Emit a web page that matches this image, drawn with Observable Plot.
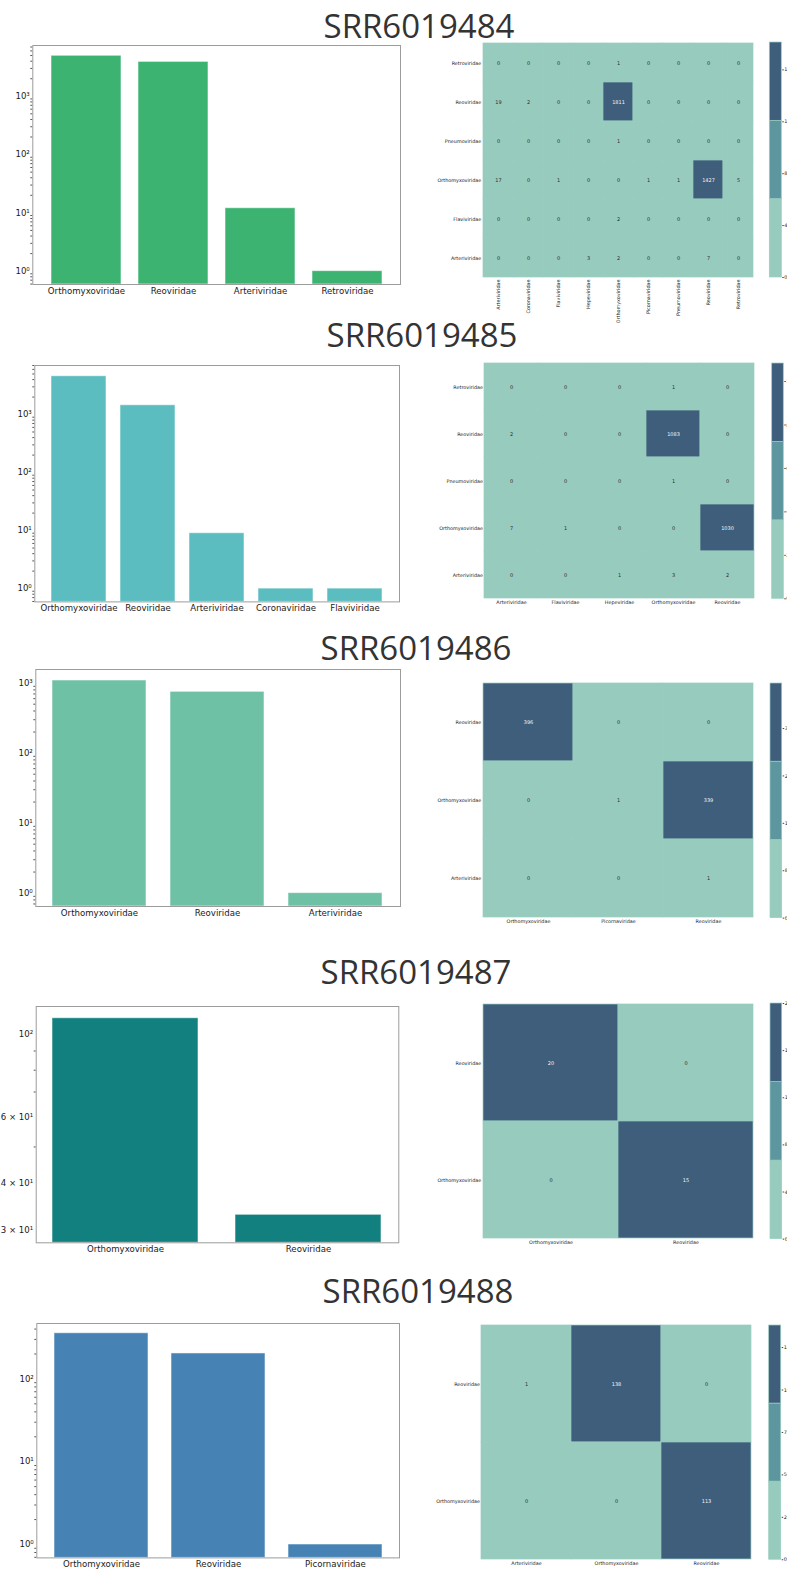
<!DOCTYPE html>
<html>
<head>
<meta charset="utf-8">
<script src="https://cdn.jsdelivr.net/npm/d3@7"></script>
<script src="https://cdn.jsdelivr.net/npm/@observablehq/plot@0.6"></script>
<style>
  html, body { margin: 0; padding: 0; background: #fff; }
  #page { position: relative; width: 787px; height: 1573px; overflow: hidden; }
  #page > svg { position: absolute; }
</style>
</head>
<body>
<div id="page"></div>
<script>
// ---- samples ----
const samples = ["SRR6019484", "SRR6019485", "SRR6019486", "SRR6019487", "SRR6019488"];

// ---- read counts per virus family (bar charts, log scale) ----
const barFamilies = [
  ["Orthomyxoviridae", "Reoviridae", "Arteriviridae", "Retroviridae"],
  ["Orthomyxoviridae", "Reoviridae", "Arteriviridae", "Coronaviridae", "Flaviviridae"],
  ["Orthomyxoviridae", "Reoviridae", "Arteriviridae"],
  ["Orthomyxoviridae", "Reoviridae"],
  ["Orthomyxoviridae", "Reoviridae", "Picornaviridae"]
];
const barCounts = [
  [4950, 3890, 12, 1],
  [4570, 1445, 9, 1, 1],
  [1090, 751, 1],
  [110, 33],
  [356, 203, 1]
];
const barColors = ["#3cb371", "#5cbdc0", "#6ec1a5", "#138080", "#4682b4"];

// y-axis limits and labelled ticks of each bar chart
const barYDomains = [[0.59, 7430], [0.59, 7000], [0.644, 1565], [27.8, 118.2], [0.689, 467]];
const barTickValues = [
  [1, 10, 100, 1000],
  [1, 10, 100, 1000],
  [1, 10, 100, 1000],
  [30, 40, 60, 100],
  [1, 10, 100]
];
const barTickLabels = [
  ["10⁰", "10¹", "10²", "10³"],
  ["10⁰", "10¹", "10²", "10³"],
  ["10⁰", "10¹", "10²", "10³"],
  ["3 × 10¹", "4 × 10¹", "6 × 10¹", "10²"],
  ["10⁰", "10¹", "10²"]
];

// ---- confusion matrices (rows: true family, columns: assigned family) ----
const heatRows = [
  ["Retroviridae", "Reoviridae", "Pneumoviridae", "Orthomyxoviridae", "Flaviviridae", "Arteriviridae"],
  ["Retroviridae", "Reoviridae", "Pneumoviridae", "Orthomyxoviridae", "Arteriviridae"],
  ["Reoviridae", "Orthomyxoviridae", "Arteriviridae"],
  ["Reoviridae", "Orthomyxoviridae"],
  ["Reoviridae", "Orthomyxoviridae"]
];
const heatCols = [
  ["Arteriviridae", "Coronaviridae", "Flaviviridae", "Hepeviridae", "Orthomyxoviridae", "Picornaviridae", "Pneumoviridae", "Reoviridae", "Retroviridae"],
  ["Arteriviridae", "Flaviviridae", "Hepeviridae", "Orthomyxoviridae", "Reoviridae"],
  ["Orthomyxoviridae", "Picornaviridae", "Reoviridae"],
  ["Orthomyxoviridae", "Reoviridae"],
  ["Arteriviridae", "Orthomyxoviridae", "Reoviridae"]
];
const heatValues = [
  [
    [0, 0, 0, 0, 1, 0, 0, 0, 0],
    [19, 2, 0, 0, 1811, 0, 0, 0, 0],
    [0, 0, 0, 0, 1, 0, 0, 0, 0],
    [17, 0, 1, 0, 0, 1, 1, 1427, 5],
    [0, 0, 0, 0, 2, 0, 0, 0, 0],
    [0, 0, 0, 3, 2, 0, 0, 7, 0]
  ],
  [
    [0, 0, 0, 1, 0],
    [2, 0, 0, 1083, 0],
    [0, 0, 0, 1, 0],
    [7, 1, 0, 0, 1030],
    [0, 0, 1, 3, 2]
  ],
  [
    [396, 0, 0],
    [0, 1, 339],
    [0, 0, 1]
  ],
  [
    [20, 0],
    [0, 15]
  ],
  [
    [1, 138, 0],
    [0, 0, 113]
  ]
];
const colorbarTicks = [
  [0, 400, 800, 1200, 1600],
  [0, 200, 400, 600, 800, 1000],
  [0, 80, 160, 240, 320],
  [0, 4, 8, 12, 16, 20],
  [0, 25, 50, 75, 100, 125]
];
const heatPalette = ["#96cbbe", "#5e96a0", "#3e5e7c"];
const cellEdge = "#99cdc0";

// ---- page layout ----
const titleLayout = [
  {x: 419, y: 38}, {x: 422, y: 346.7}, {x: 416, y: 660}, {x: 416, y: 984}, {x: 418, y: 1302.7}
];
const barLayout = [
  {x0: 32.3, x1: 400, y0: 45, y1: 284},
  {x0: 34.3, x1: 399, y0: 365.3, y1: 601.7},
  {x0: 35.3, x1: 400, y0: 668.7, y1: 905.7},
  {x0: 35.7, x1: 398.3, y0: 1006, y1: 1242.3},
  {x0: 36.3, x1: 399, y0: 1323.3, y1: 1557.7}
];
const heatLayout = [
  {x0: 482.3, x1: 752.7, y0: 42.3, y1: 277.3, c0: 769.3, c1: 781.3, rotate: true},
  {x0: 484, x1: 754.3, y0: 362.7, y1: 598, c0: 771.7, c1: 783.3},
  {x0: 482.3, x1: 753, y0: 683.3, y1: 918, c0: 770, c1: 781.7},
  {x0: 482.3, x1: 753, y0: 1003.3, y1: 1239, c0: 770, c1: 781.7},
  {x0: 481, x1: 751.7, y0: 1325, y1: 1559.3, c0: 768.7, c1: 780.7}
];

const FONT = "DejaVu Sans";
const BAR_FONT = 8.6;
const HEAT_FONT = 4.9;

const page = document.getElementById("page");
const baseStyle = {
  background: "transparent",
  maxWidth: "none",
  overflow: "visible",
  fontFamily: FONT,
  color: "#1a1a1a"
};

function place(svg, left, top) {
  svg.style.left = left + "px";
  svg.style.top = top + "px";
  page.appendChild(svg);
}

// log-axis minor ticks (2..9 × 10^k) inside the domain
function minorTicks([lo, hi], skip) {
  const out = [];
  for (let k = Math.floor(Math.log10(lo)); k <= Math.ceil(Math.log10(hi)); k++) {
    for (let m = 2; m <= 9; m++) {
      const v = m * Math.pow(10, k);
      if (v >= lo && v <= hi && !skip.includes(v)) out.push(v);
    }
  }
  return out;
}

function barChart(i) {
  const L = barLayout[i];
  const mt = 10, mb = 26, mr = 10;
  const left = 0, top = L.y0 - mt;
  const n = barFamilies[i].length;
  const data = barFamilies[i].map((family, k) => ({family, count: barCounts[i][k]}));
  const domain = barYDomains[i];
  const labels = new Map(barTickValues[i].map((v, k) => [v, barTickLabels[i][k]]));
  const svg = Plot.plot({
    width: L.x1 - left + mr,
    height: L.y1 - L.y0 + mt + mb,
    marginLeft: L.x0 - left,
    marginRight: mr,
    marginTop: mt,
    marginBottom: mb,
    style: {...baseStyle, fontSize: BAR_FONT + "px"},
    x: {type: "band", domain: barFamilies[i], paddingInner: 0.2, paddingOuter: 0.05 * (n - 0.2), label: null},
    y: {type: "log", domain, label: null},
    marks: [
      Plot.barY(data, {
        x: "family", y1: domain[0], y2: "count",
        fill: barColors[i], stroke: "white", strokeOpacity: 0.55, strokeWidth: 1
      }),
      Plot.axisY({ticks: minorTicks(domain, barTickValues[i]), tickSize: 2, tickFormat: () => "", stroke: "#555"}),
      Plot.axisY({ticks: barTickValues[i], tickSize: 0, tickPadding: 3, tickFormat: d => labels.get(d),
        fontSize: BAR_FONT, fontFamily: FONT}),
      Plot.axisX({tickSize: 0, tickPadding: 3, fontSize: BAR_FONT, fontFamily: FONT}),
      Plot.frame({stroke: "#9c9c9c"})
    ]
  });
  place(svg, left, top);
}

function heatmap(i) {
  const L = heatLayout[i];
  const rows = heatRows[i], cols = heatCols[i];
  const cells = rows.flatMap((row, a) => cols.map((col, b) => ({row, col, value: heatValues[i][a][b]})));
  const max = d3.max(cells, d => d.value);
  const cut = [max / 3, 2 * max / 3];
  const mt = 6, mb = L.rotate ? 60 : 14, mr = 4;
  const left = 420, top = L.y0 - mt;
  const svg = Plot.plot({
    width: L.x1 - left + mr,
    height: L.y1 - L.y0 + mt + mb,
    marginLeft: L.x0 - left,
    marginRight: mr,
    marginTop: mt,
    marginBottom: mb,
    style: {...baseStyle, fontSize: HEAT_FONT + "px"},
    x: {domain: cols, padding: 0, label: null},
    y: {domain: rows, padding: 0, label: null},
    color: {type: "threshold", domain: cut, range: heatPalette},
    marks: [
      Plot.cell(cells, {x: "col", y: "row", fill: "value", inset: 0, stroke: cellEdge, strokeWidth: 0.7}),
      Plot.text(cells, {x: "col", y: "row", text: d => String(d.value), filter: d => d.value < cut[1],
        fill: "#2b2b2b", fontSize: 5, fontFamily: FONT}),
      Plot.text(cells, {x: "col", y: "row", text: d => String(d.value), filter: d => d.value >= cut[1],
        fill: "#f4f4f4", fontSize: 5, fontFamily: FONT}),
      Plot.axisY({tickSize: 0, tickPadding: 1.5, fontSize: HEAT_FONT, fontFamily: FONT}),
      L.rotate
        ? Plot.axisX({tickSize: 0, tickPadding: 2, tickRotate: -90, fontSize: HEAT_FONT, fontFamily: FONT})
        : Plot.axisX({tickSize: 0, tickPadding: 1.5, fontSize: HEAT_FONT, fontFamily: FONT})
    ]
  });
  place(svg, left, top);

  // discrete colour bar with one band per palette step
  const bands = heatPalette.map((color, k) => ({lo: k * max / 3, hi: (k + 1) * max / 3, color}));
  const cleft = 755;
  const cbar = Plot.plot({
    width: L.c1 - cleft + 30,
    height: L.y1 - L.y0 + mt + mb,
    marginLeft: L.c0 - cleft,
    marginRight: 30,
    marginTop: mt,
    marginBottom: mb,
    style: {...baseStyle, fontSize: HEAT_FONT + "px"},
    x: {domain: [0, 1], axis: null},
    y: {domain: [0, max], label: null},
    color: {type: "identity"},
    marks: [
      Plot.rectY(bands, {x1: 0, x2: 1, y1: "lo", y2: "hi", fill: "color", stroke: cellEdge, strokeWidth: 0.7}),
      Plot.axisY({anchor: "right", ticks: colorbarTicks[i], tickSize: 1.5, tickPadding: 1, stroke: "#444",
        fontSize: HEAT_FONT, fontFamily: FONT})
    ]
  });
  place(cbar, cleft, top);
}

samples.forEach((_, i) => { barChart(i); heatmap(i); });

// sample titles
const titles = d3.create("svg")
  .attr("width", 787).attr("height", 1573)
  .style("left", "0px").style("top", "0px").style("pointer-events", "none");
titles.selectAll("text")
  .data(samples)
  .join("text")
  .attr("x", (d, i) => titleLayout[i].x)
  .attr("y", (d, i) => titleLayout[i].y)
  .attr("text-anchor", "middle")
  .attr("font-family", "Open Sans")
  .attr("font-size", 33)
  .attr("fill", "#333")
  .text(d => d);
page.appendChild(titles.node());
</script>
</body>
</html>
